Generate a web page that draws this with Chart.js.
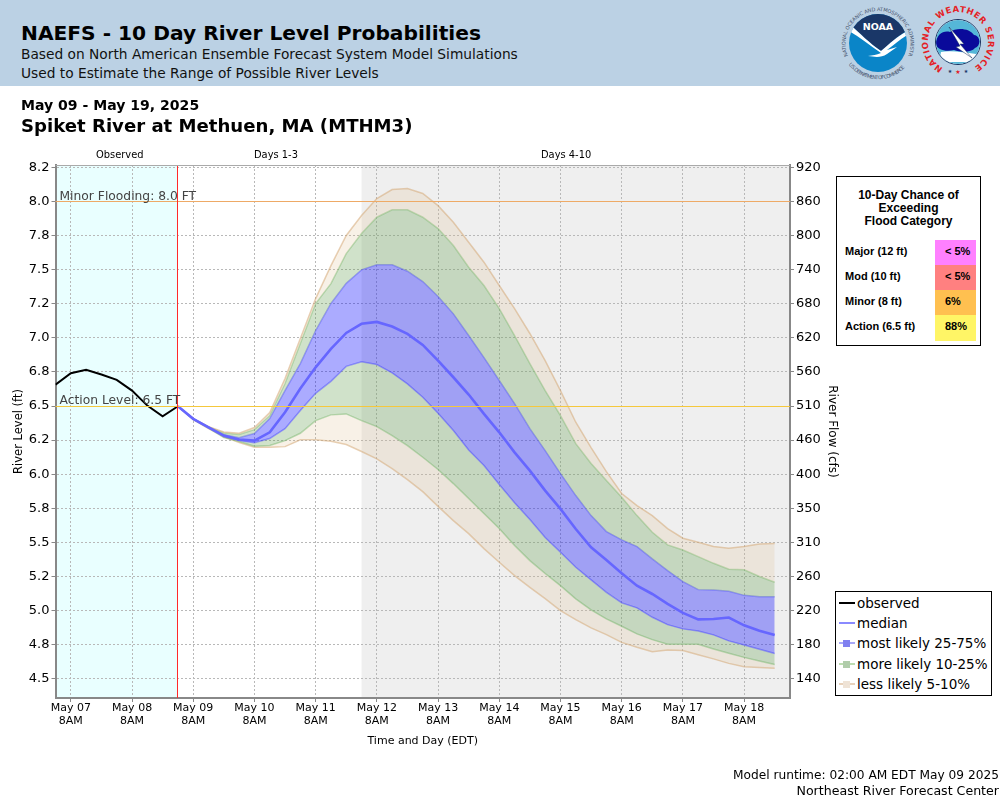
<!DOCTYPE html>
<html><head><meta charset="utf-8">
<script src="https://cdn.jsdelivr.net/npm/chart.js@4"></script>
<style>
html,body{margin:0;padding:0;background:#fff;width:1000px;height:800px;overflow:hidden;font-family:"DejaVu Sans",sans-serif;color:#000}
.t{position:absolute;white-space:nowrap;line-height:1}
#hdr{position:absolute;left:0;top:0;width:1000px;height:86px;background:#bbd1e4}
canvas{position:absolute;left:0;top:0}
#box{position:absolute;left:836px;top:176px;width:143px;height:168px;border:1px solid #000;background:#fff;font-family:"Liberation Sans",sans-serif;font-weight:bold}
#box .r{position:absolute;left:8px;font-size:11px;line-height:1}
#box .c{position:absolute;left:98px;width:41px;height:25px}
#box .p{position:absolute;left:108px;font-size:11px;line-height:1}
#leg{position:absolute;left:835px;top:591px;width:155px;height:103px;border:1px solid #000;background:#fff}
#leg .e{position:absolute;left:21px;font-size:13.5px;line-height:1;white-space:nowrap}
#leg .l{position:absolute;left:3px;width:16px;height:2px}
#leg .m{position:absolute;left:7px;width:7px;height:7px}
</style></head><body>
<canvas id="c" width="1000" height="800" style="width:1000px;height:800px"></canvas>
<div id="hdr"></div>
<div class="t" style="left:21px;top:23px;font-size:20.2px;font-weight:bold">NAEFS - 10 Day River Level Probabilities</div>
<div class="t" style="left:21px;top:48px;font-size:13.75px;color:#111">Based on North American Ensemble Forecast System Model Simulations</div>
<div class="t" style="left:21px;top:67px;font-size:13.75px;color:#111">Used to Estimate the Range of Possible River Levels</div>
<svg style="position:absolute;left:835px;top:0" width="165" height="86" viewBox="0 0 165 86">
 <defs>
  <path id="ring1" d="M 13 56 A 32.5 32.5 0 1 1 73 56"/>
  <path id="ring1b" d="M 12 62 A 36.5 36.5 0 0 0 74 62"/>
  <path id="ring2" d="M 108 68 A 30 30 0 1 1 138 68"/>
  <clipPath id="d1"><circle cx="43" cy="43" r="29"/></clipPath>
  <clipPath id="d2"><circle cx="123" cy="42" r="22"/></clipPath>
 </defs>
 <text font-size="5" fill="#44506a" font-family="DejaVu Sans"><textPath href="#ring1" textLength="142" lengthAdjust="spacing">NATIONAL OCEANIC AND ATMOSPHERIC ADMINISTRATION</textPath></text>
 <text font-size="5" fill="#44506a" font-family="DejaVu Sans"><textPath href="#ring1b" startOffset="4%" textLength="64" lengthAdjust="spacing">U.S. DEPARTMENT OF COMMERCE</textPath></text>
 <g clip-path="url(#d1)">
  <rect x="10" y="10" width="66" height="66" fill="#0a85c8"/>
  <path d="M12 8 H74 V30 C64 34 56 43 46 51 C34 43 24 32 12 22 Z" fill="#1a3768"/>
  <path d="M12 22 C24 32 34 43 46 51 C56 43 64 34 76 30 V33 C66 38 60 44 52 50 L62 47 L52 54 C46 58 40 57 33 56 C38 55 41 55 46 53 C34 45 24 36 12 30 Z" fill="#fff"/>
 </g>
 <text x="43" y="30" text-anchor="middle" font-size="9.5" font-weight="bold" fill="#fff" font-family="DejaVu Sans">NOAA</text>
 <circle cx="123" cy="42" r="22.5" fill="#fff" stroke="#17315f" stroke-width="1"/>
 <g clip-path="url(#d2)">
  <rect x="100" y="19" width="46" height="46" fill="#55b7d8"/>
  <path d="M101 44 C101 34 109 30 115 32 C121 27 135 28 139 35 C146 36 146 46 140 48 C136 53 125 52 119 50 C111 52 102 50 101 44Z" fill="#0a0a9a"/>
  <path d="M106 52 C115 50 128 52 141 54 V62 H104Z" fill="#fff"/>
  <path d="M114 27 L129 44 L125 44 L137 58 L121 47 L125 46 L114 27Z" fill="#fff" stroke="#17315f" stroke-width="0.5"/>
 </g>
 <text font-size="8.5" font-weight="bold" fill="#e41e26" font-family="DejaVu Sans"><textPath href="#ring2" textLength="155" lengthAdjust="spacing">NATIONAL WEATHER SERVICE</textPath></text>
 <text x="123" y="74" text-anchor="middle" font-size="6" fill="#e41e26" font-family="DejaVu Sans">★</text>
 <text x="115" y="73" text-anchor="middle" font-size="5" fill="#1a3768" font-family="DejaVu Sans">★</text>
 <text x="131" y="73" text-anchor="middle" font-size="5" fill="#1a3768" font-family="DejaVu Sans">★</text>
</svg>
<div class="t" style="left:21px;top:98px;font-size:14.05px;font-weight:bold">May 09 - May 19, 2025</div>
<div class="t" style="left:21px;top:117px;font-size:18.1px;font-weight:bold">Spiket River at Methuen, MA (MTHM3)</div>
<div class="t" style="left:96px;top:150px;font-size:9.9px">Observed</div>
<div class="t" style="left:254px;top:150px;font-size:9.9px">Days 1-3</div>
<div class="t" style="left:541px;top:150px;font-size:9.9px">Days 4-10</div>
<div id="box">
 <div class="t" style="left:0;width:143px;top:12px;font-size:12px;text-align:center;line-height:13px;white-space:normal">10-Day Chance of<br>Exceeding<br>Flood Category</div>
 <div class="r" style="top:69px">Major (12 ft)</div><div class="c" style="top:63px;background:#ff80ff"></div><div class="p" style="top:69px">&lt; 5%</div>
 <div class="r" style="top:94px">Mod (10 ft)</div><div class="c" style="top:88px;background:#ff8080"></div><div class="p" style="top:94px">&lt; 5%</div>
 <div class="r" style="top:119px">Minor (8 ft)</div><div class="c" style="top:113px;background:#ffc050"></div><div class="p" style="top:119px">6%</div>
 <div class="r" style="top:144px">Action (6.5 ft)</div><div class="c" style="top:138px;height:26px;background:#fff566"></div><div class="p" style="top:144px">88%</div>
</div>
<div id="leg">
 <div class="l" style="top:10px;background:#000"></div><div class="e" style="top:5px">observed</div>
 <div class="l" style="top:30px;background:#8a8aff"></div><div class="e" style="top:25px">median</div>
 <div class="l" style="top:50px;background:#a8a8f8"></div><div class="m" style="top:48px;background:#8080f0"></div><div class="e" style="top:45px">most likely 25-75%</div>
 <div class="l" style="top:71px;background:#bcdcb0"></div><div class="m" style="top:69px;background:#b0ccaa"></div><div class="e" style="top:66px">more likely 10-25%</div>
 <div class="l" style="top:91px;background:#e8d2bc"></div><div class="m" style="top:89px;background:#efe3d6"></div><div class="e" style="top:86px">less likely 5-10%</div>
</div>
<div class="t" style="right:1px;top:769px;font-size:12.2px">Model runtime: 02:00 AM EDT May 09 2025</div>
<div class="t" style="right:1px;top:785px;font-size:12.6px">Northeast River Forecast Center</div>
<script>
const obsHours=[-6,0,6,12,18,24,30,36,42];
const observed=[6.657,6.74,6.765,6.731,6.692,6.613,6.503,6.425,6.498];
const fcHours=[42,48,54,60,66,72,78,84,90,96,102,108,114,120,126,132,138,144,150,156,162,168,174,180,186,192,198,204,210,216,222,228,234,240,246,252,258,264,270,276];
const median=[6.498,6.406,6.344,6.283,6.254,6.246,6.307,6.454,6.628,6.784,6.919,7.036,7.103,7.117,7.083,7.029,6.948,6.833,6.711,6.584,6.442,6.307,6.160,6.026,5.879,5.745,5.598,5.463,5.371,5.273,5.182,5.121,5.048,4.982,4.935,4.938,4.948,4.891,4.852,4.820];
const p95=[6.498,6.408,6.349,6.309,6.300,6.342,6.452,6.701,6.995,7.288,7.530,7.751,7.897,8.022,8.088,8.095,8.059,7.970,7.848,7.701,7.555,7.384,7.215,7.032,6.833,6.613,6.381,6.195,6.019,5.858,5.770,5.696,5.601,5.530,5.500,5.469,5.456,5.469,5.488,5.491];
const p90=[6.498,6.404,6.346,6.302,6.291,6.327,6.430,6.665,6.958,7.252,7.398,7.618,7.765,7.885,7.939,7.939,7.885,7.802,7.677,7.518,7.384,7.215,7.017,6.811,6.613,6.430,6.224,6.078,5.953,5.830,5.696,5.574,5.481,5.444,5.395,5.346,5.302,5.298,5.249,5.207];
const p75=[6.498,6.408,6.346,6.290,6.268,6.298,6.408,6.613,6.811,7.053,7.252,7.400,7.499,7.536,7.536,7.489,7.413,7.303,7.176,7.017,6.855,6.687,6.518,6.334,6.173,6.004,5.843,5.696,5.579,5.518,5.469,5.378,5.293,5.212,5.153,5.151,5.141,5.111,5.100,5.100];
const p25=[6.498,6.404,6.342,6.276,6.246,6.230,6.261,6.334,6.467,6.593,6.681,6.791,6.824,6.804,6.743,6.662,6.564,6.447,6.320,6.178,6.063,5.924,5.791,5.667,5.535,5.427,5.317,5.224,5.133,5.056,5.019,4.950,4.896,4.865,4.850,4.821,4.777,4.747,4.715,4.684];
const p10=[6.498,6.403,6.338,6.268,6.239,6.205,6.210,6.246,6.300,6.393,6.435,6.442,6.393,6.349,6.283,6.210,6.124,6.034,5.931,5.821,5.711,5.601,5.476,5.366,5.271,5.182,5.085,5.004,4.938,4.884,4.828,4.786,4.752,4.752,4.752,4.718,4.686,4.656,4.630,4.603];
const p05=[6.498,6.400,6.334,6.276,6.232,6.197,6.197,6.202,6.252,6.252,6.241,6.217,6.166,6.112,6.041,5.960,5.872,5.764,5.659,5.564,5.454,5.354,5.256,5.170,5.087,4.999,4.933,4.872,4.823,4.766,4.730,4.698,4.711,4.706,4.676,4.645,4.612,4.588,4.581,4.576];
const yTicks=[8.25,8,7.75,7.5,7.25,7,6.75,6.5,6.25,6,5.75,5.5,5.25,5,4.75,4.5];
const yLabels=["8.2","8.0","7.8","7.5","7.2","7.0","6.8","6.5","6.2","6.0","5.8","5.5","5.2","5.0","4.8","4.5"];
const flowLabels=["920","860","800","740","680","620","560","510","460","400","350","310","260","220","180","140"];
const xTicks=[0,24,48,72,96,120,144,168,192,216,240,264];
const xLabels=["May 07","May 08","May 09","May 10","May 11","May 12","May 13","May 14","May 15","May 16","May 17","May 18"];
const xRange=[-6,282], yRange=[4.358,8.268];
const obsEnd=42, grayStart=114, actionLevel=6.5, minorLevel=8;

const pts=(xs,ys)=>xs.map((x,i)=>({x,y:ys[i]}));
const band=(data,fillTarget,fillColor,lineColor)=>({data:pts(fcHours,data),fill:fillTarget==null?false:{target:fillTarget},backgroundColor:fillColor,borderColor:lineColor,borderWidth:1.5,pointRadius:0,tension:0});
const TAN='rgba(222,184,135,0.2)',GRN='rgba(100,160,80,0.3)',BLU='rgba(0,0,255,0.33)';
const tanL='rgba(214,170,120,0.55)',grnL='rgba(130,190,120,0.5)',bluL='rgba(90,90,255,0.5)';
const zones={id:'zones',
 beforeDraw(ch){const {ctx,chartArea:a,scales:{x}}=ch;ctx.save();
  ctx.fillStyle='#e9ffff';ctx.fillRect(a.left,a.top,x.getPixelForValue(obsEnd)-a.left,a.height);
  const g=x.getPixelForValue(grayStart);ctx.fillStyle='#efefef';ctx.fillRect(g,a.top,a.right-g,a.height);ctx.restore();},
 afterDatasetsDraw(ch){const {ctx,chartArea:a,scales:{x,y}}=ch;ctx.save();
  const level=(v,col)=>{const py=Math.round(y.getPixelForValue(v)-.5);ctx.fillStyle=col;ctx.fillRect(a.left,py,a.right-a.left,1);};
  level(minorLevel,'#eeaa66');level(actionLevel,'#f5c83c');
  ctx.fillStyle='#ff2a2a';ctx.fillRect(Math.round(x.getPixelForValue(obsEnd)-.5),a.top,1,a.bottom-a.top);
  ctx.fillStyle='#aaa';ctx.fillRect(a.left,a.top,a.right-a.left,1);
  ctx.fillStyle='#444';ctx.font='12.3px "DejaVu Sans"';ctx.textBaseline='bottom';
  ctx.fillText('Minor Flooding: 8.0 FT',a.left+4,y.getPixelForValue(minorLevel)+1);
  ctx.fillText('Action Level: 6.5 FT',a.left+4,y.getPixelForValue(actionLevel)+1);
  ctx.restore();}};
const gridC='#b8b8b8';
new Chart(document.getElementById('c'),{type:'line',plugins:[zones],
 data:{datasets:[
  {data:pts(obsHours,observed),borderColor:'#000',borderWidth:2,pointRadius:0,fill:false,tension:0},
  {data:pts(fcHours,median),borderColor:'#6666ff',borderWidth:2.6,pointRadius:0,fill:false,tension:0},
  band(p95,3,TAN,tanL),band(p90,4,GRN,grnL),band(p75,5,BLU,bluL),band(p25,6,GRN,bluL),band(p10,7,TAN,grnL),band(p05,null,'transparent',tanL)
 ]},
 options:{responsive:false,animation:false,devicePixelRatio:1,
  layout:{padding:{left:0,right:161,top:165,bottom:52}},
  plugins:{legend:{display:false},tooltip:{enabled:false},filler:{propagate:false}},
  scales:{
   x:{type:'linear',position:'bottom',min:xRange[0],max:xRange[1],
    afterBuildTicks:s=>{s.ticks=xTicks.map(v=>({value:v}))},
    afterFit:s=>{s.height=50},
    grid:{color:gridC,tickColor:'#888',tickLength:4},border:{color:'#888',width:2,dash:[2,2]},
    ticks:{autoSkip:false,maxRotation:0,color:'#000',font:{family:'DejaVu Sans',size:11,lineHeight:1.15},padding:0,
     callback:(v)=>[xLabels[xTicks.indexOf(v)],'8AM']},
    title:{display:true,text:'Time and Day (EDT)',color:'#000',font:{family:'DejaVu Sans',size:11},padding:0}},
   y:{type:'linear',position:'left',min:yRange[0],max:yRange[1],
    afterBuildTicks:s=>{s.ticks=yTicks.map(v=>({value:v}))},
    afterFit:s=>{s.width=55.5},
    grid:{color:gridC,tickColor:'#888',tickLength:4},border:{color:'#888',width:2,dash:[2,2]},
    ticks:{autoSkip:false,color:'#000',font:{family:'DejaVu Sans',size:13},padding:2,
     callback:(v)=>yLabels[yTicks.indexOf(v)]},
    title:{display:true,text:'River Level (ft)',color:'#000',font:{family:'DejaVu Sans',size:11.5},padding:{top:12,bottom:0}}},
   y2:{type:'linear',position:'right',min:yRange[0],max:yRange[1],
    afterBuildTicks:s=>{s.ticks=yTicks.map(v=>({value:v}))},
    afterFit:s=>{s.width=49},
    grid:{display:true,drawOnChartArea:false,color:'#888',tickLength:4},border:{color:'#888',width:2},
    ticks:{autoSkip:false,color:'#000',font:{family:'DejaVu Sans',size:13},padding:2,
     callback:(v)=>flowLabels[yTicks.indexOf(v)]},
    title:{display:true,text:'River Flow (cfs)',color:'#000',font:{family:'DejaVu Sans',size:12},padding:{top:0,bottom:0}}}
  }}});
</script>
</body></html>
